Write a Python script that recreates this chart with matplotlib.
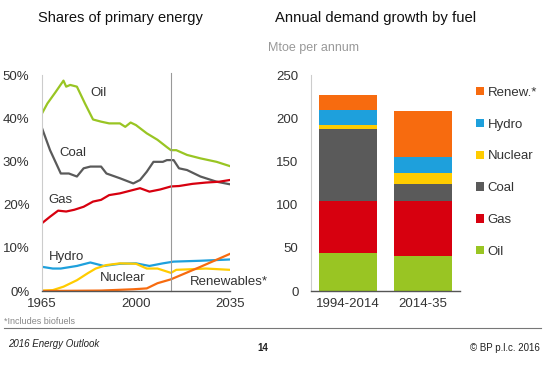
import matplotlib.pyplot as plt
import numpy as np

plt.rcParams['font.family'] = ['Liberation Sans', 'DejaVu Sans']

# Shares of primary energy (%)
oil_years = [1965, 1967, 1970, 1973, 1974, 1975.5, 1978, 1981, 1984, 1987, 1990, 1994, 1996, 1998,
             2000, 2004, 2008, 2011.5, 2013, 2015, 2019, 2024, 2030, 2035]
oil = [41.1, 43.4, 46.0, 48.7, 47.3, 47.7, 47.3, 43.4, 39.7, 39.2, 38.8, 38.8, 38.0, 39.0,
       38.4, 36.5, 35.0, 33.3, 32.6, 32.6, 31.5, 30.7, 29.9, 28.9]

coal_years = [1965, 1968, 1972, 1975, 1978, 1980.5, 1983, 1987, 1989, 1994, 1999, 2001.5, 2004,
              2006.5, 2010, 2011.5, 2014, 2016, 2019, 2024, 2030, 2035]
coal = [37.7, 32.6, 27.2, 27.2, 26.5, 28.4, 28.8, 28.8, 27.2, 26.1, 24.9, 25.7, 27.6,
        29.9, 29.9, 30.3, 30.3, 28.4, 28.0, 26.5, 25.3, 24.7]

gas_years = [1965, 1968, 1971, 1974, 1977, 1980.5, 1984, 1987, 1990, 1994, 1999, 2001.5, 2005,
             2009, 2013, 2016, 2021, 2026, 2031, 2035]
gas = [15.7, 17.2, 18.6, 18.4, 18.8, 19.5, 20.7, 21.1, 22.2, 22.6, 23.4, 23.8, 23.0,
       23.5, 24.2, 24.3, 24.8, 25.1, 25.3, 25.7]

hydro_years = [1965, 1969, 1972, 1978, 1983, 1988, 1994, 2000, 2005, 2010, 2014, 2024, 2035]
hydro = [5.6, 5.2, 5.2, 5.8, 6.6, 5.8, 6.3, 6.4, 5.8, 6.4, 6.8, 7.0, 7.3]

nuclear_years = [1965, 1969, 1973, 1978, 1982, 1985, 1989, 1994, 2000, 2004, 2008, 2011.5, 2013,
                 2015, 2019, 2026, 2035]
nuclear = [0.1, 0.2, 1.0, 2.5, 4.1, 5.2, 6.0, 6.4, 6.3, 5.2, 5.2, 4.5, 4.2,
           4.9, 5.0, 5.2, 4.9]

renew_years = [1965, 1987, 1999, 2004, 2008, 2013, 2024, 2035]
renew = [0.0, 0.1, 0.4, 0.6, 1.8, 2.7, 5.6, 8.6]

# Annual demand growth by fuel (Mtoe per annum)
periods = ['1994-2014', '2014-35']
fuels = ['Oil', 'Gas', 'Coal', 'Nuclear', 'Hydro', 'Renew.*']
growth_oil = [44, 40]
growth_gas = [60, 64.5]
growth_coal = [84, 19]
growth_nuclear = [4, 13]
growth_hydro = [17, 19]
growth_renew = [18, 53]

c_oil = '#99c523'
c_gas = '#d7000f'
c_coal = '#5a5a5a'
c_nuclear = '#ffcc00'
c_hydro = '#1ea0dc'
c_renew = '#f76b0f'
txt = '#333333'

fig = plt.figure(figsize=(5.45, 3.66), dpi=100)

# ---- left: shares ----
ax1 = fig.add_axes([42/545, 1-291/366, 188/545, 216/366])
ax1.plot(oil_years, oil, color=c_oil, lw=1.6)
ax1.plot(coal_years, coal, color=c_coal, lw=1.6)
ax1.plot(gas_years, gas, color=c_gas, lw=1.6)
ax1.plot(hydro_years, hydro, color=c_hydro, lw=1.6)
ax1.plot(nuclear_years, nuclear, color=c_nuclear, lw=1.6)
ax1.plot(renew_years, renew, color=c_renew, lw=1.6)
ax1.axvline(2013, color='#999999', lw=0.8, ymax=1.01, clip_on=False)

ax1.set_xlim(1965, 2035)
ax1.set_ylim(0, 50)
ax1.set_xticks([1965, 2000, 2035])
ax1.set_yticks([0, 10, 20, 30, 40, 50])
ax1.set_yticklabels([f'{v}%' for v in range(0, 60, 10)])
ax1.tick_params(length=0, labelsize=9.5, colors=txt, pad=5)
ax1.tick_params(axis='y', pad=9)
for s in ['top', 'right']:
    ax1.spines[s].set_visible(False)
ax1.spines['left'].set_color('#cccccc')
ax1.spines['left'].set_linewidth(0.8)
ax1.spines['bottom'].set_color('#555555')
ax1.spines['bottom'].set_linewidth(1.0)

lab = dict(fontsize=9.5, color=txt, ha='center', va='center')
ax1.text(1986, 45.8, 'Oil', **lab)
ax1.text(1976.5, 32.0, 'Coal', **lab)
ax1.text(1972, 21.0, 'Gas', **lab)
ax1.text(1974, 7.9, 'Hydro', **lab)
ax1.text(1995, 3.0, 'Nuclear', **lab)
ax1.text(2034.5, 2.0, 'Renewables*', clip_on=False, **lab)

# ---- right: bars ----
ax2 = fig.add_axes([311/545, 1-291/366, 149/545, 216/366])
x = np.arange(len(periods))
stack = [(growth_oil, c_oil), (growth_gas, c_gas), (growth_coal, c_coal),
         (growth_nuclear, c_nuclear), (growth_hydro, c_hydro), (growth_renew, c_renew)]
bottom = np.zeros(len(periods))
handles = []
for (vals, col), name in zip(stack, fuels):
    b = ax2.bar(x, vals, 0.77, bottom=bottom, color=col, label=name)
    handles.append(b)
    bottom += np.array(vals)

ax2.set_xlim(-0.493, 1.493)
ax2.set_ylim(0, 250)
ax2.set_xticks(x)
ax2.set_xticklabels(periods)
ax2.set_yticks([0, 50, 100, 150, 200, 250])
ax2.tick_params(length=0, labelsize=9.5, colors=txt, pad=5)
ax2.tick_params(axis='y', pad=9)
for s in ['top', 'right']:
    ax2.spines[s].set_visible(False)
ax2.spines['left'].set_color('#cccccc')
ax2.spines['left'].set_linewidth(0.8)
ax2.spines['bottom'].set_color('#555555')
ax2.spines['bottom'].set_linewidth(1.0)

leg = ax2.legend(handles[::-1], fuels[::-1], loc='upper left', bbox_to_anchor=(1.107, 0.945),
                 frameon=False, fontsize=9.5, handlelength=0.6, handleheight=0.6,
                 handletextpad=0.3, labelspacing=1.5, borderaxespad=0, borderpad=0)
for t in leg.get_texts():
    t.set_color(txt)

# ---- titles and footer ----
fig.text(38/545, 1-18/366, 'Shares of primary energy', fontsize=10.5, color='#111111', va='center')
fig.text(275/545, 1-18/366, 'Annual demand growth by fuel', fontsize=10.7, color='#111111', va='center')
fig.text(268/545, 1-48/366, 'Mtoe per annum', fontsize=9, color='#999999', va='center')
fig.text(4/545, 1-321/366, '*Includes biofuels', fontsize=6.5, color='#888888', va='center')
fig.add_artist(plt.Line2D([4/545, 541/545], [1-328/366, 1-328/366], color='#777777', lw=0.8))
fig.text(8/545, 1-344/366, '2016 Energy Outlook', fontsize=7, style='italic', color='#222222', va='center')
fig.text(263/545, 1-348/366, '14', fontsize=7, weight='bold', color='#222222', va='center', ha='center')
fig.text(540/545, 1-348/366, '\u00a9 BP p.l.c. 2016', fontsize=7, color='#222222', va='center', ha='right')

fig.savefig('out.png', dpi=100)
